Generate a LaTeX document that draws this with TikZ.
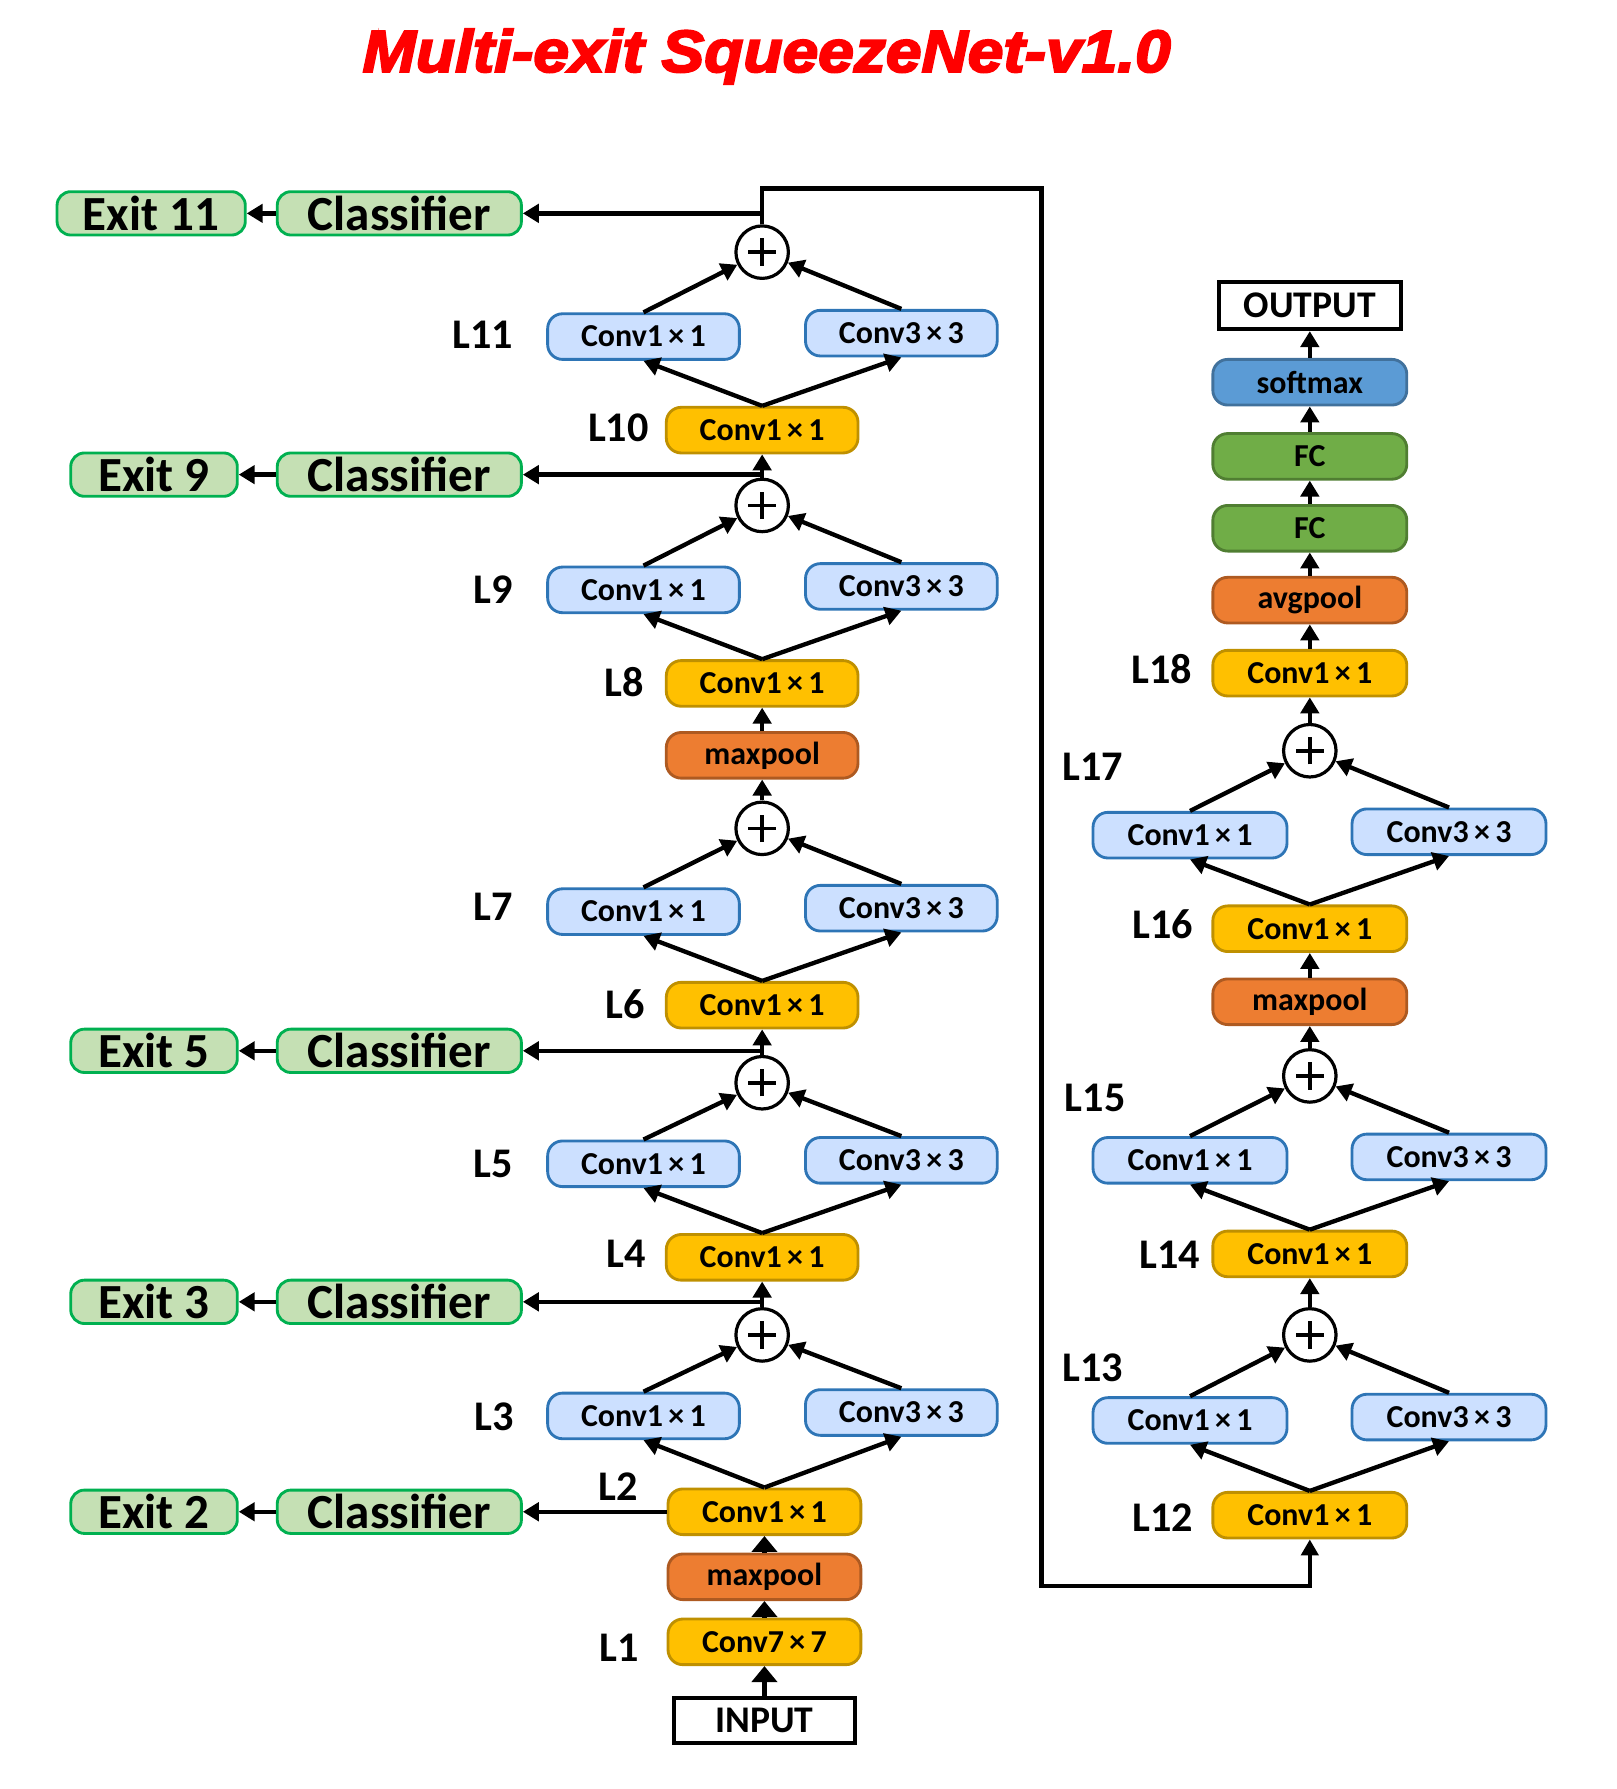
\documentclass[tikz,border=0pt]{standalone}
\usepackage{fontspec}
\setmainfont{Carlito}
\newfontfamily\titlefont{Liberation Sans}[FakeStretch=1.08,FakeBold=3.5]
\usetikzlibrary{arrows.meta}
\definecolor{yelF}{HTML}{FFC000}
\definecolor{yelD}{HTML}{BF9000}
\definecolor{bluF}{HTML}{CCE0FF}
\definecolor{bluD}{HTML}{2E75B6}
\definecolor{orgF}{HTML}{ED7D31}
\definecolor{orgD}{HTML}{AE5A21}
\definecolor{grnF}{HTML}{70AD47}
\definecolor{grnD}{HTML}{507E32}
\definecolor{sftF}{HTML}{5B9BD5}
\definecolor{sftD}{HTML}{41719C}
\definecolor{extF}{HTML}{C5E0B4}
\definecolor{extD}{HTML}{00B050}
\tikzset{
  box/.style={rounded corners=13pt, minimum width=168pt, minimum height=40pt,
    line width=2.5pt, inner sep=0pt, font=\fontsize{28}{30}\selectfont\bfseries},
  yel/.style={box, fill=yelF, draw=yelD},
  blu/.style={box, fill=bluF, draw=bluD},
  org/.style={box, fill=orgF, draw=orgD},
  grn/.style={box, fill=grnF, draw=grnD},
  sft/.style={box, fill=sftF, draw=sftD},
  iobox/.style={draw=black, line width=3.5pt, minimum width=158pt, minimum height=40pt,
    inner sep=0pt, font=\fontsize{33}{35}\selectfont\bfseries},
  ext/.style={rounded corners=12pt, minimum height=38pt, line width=2.5pt, inner sep=0pt,
    fill=extF, draw=extD, font=\fontsize{43}{45}\selectfont\bfseries},
  lab/.style={font=\fontsize{37}{40}\selectfont\bfseries, inner sep=0pt},
  plus/.style={circle, draw=black, fill=white, line width=2.8pt, minimum size=46pt, inner sep=0pt},
  arr/.style={line width=3.8pt, -{Triangle[length=14pt,width=16pt]}},
  bigarr/.style={line width=5pt, -{Triangle[length=14pt,width=22pt]}},
  loopline/.style={line width=4pt, line join=miter, -{Triangle[length=14pt,width=15pt]}},
}
\newcommand{\cx}{Conv1\,×\,1}
\newcommand{\cxx}{Conv3\,×\,3}
\begin{document}
\begin{tikzpicture}[x=1pt,y=-1pt]
\useasboundingbox (0,0) rectangle (1417,1568);
% title
\node[font=\titlefont\bfseries\itshape\fontsize{52}{56}\selectfont, text=red, anchor=base, inner sep=0pt] (title) at (672,63) {Multi-exit SqueezeNet-v1.0};

% ---------- left column ----------
\node[iobox] (inp) at (670,1508) {INPUT};
\node[yel, minimum width=169pt] (L1) at (670,1439) {Conv7\,×\,7};
\node[org, minimum width=169pt] (mp1) at (670,1382) {maxpool};
\node[yel, minimum width=169pt] (L2) at (670,1325) {\cx};
\node[blu] (L3a) at (564,1241) {\cx};
\node[blu] (L3b) at (790,1238) {\cxx};
\node[plus] (p3) at (668,1170) {};
\node[yel] (L4) at (668,1102) {\cx};
\node[blu] (L5a) at (564,1020) {\cx};
\node[blu] (L5b) at (790,1017) {\cxx};
\node[plus] (p5) at (668,949) {};
\node[yel] (L6) at (668,881) {\cx};
\node[blu] (L7a) at (564,799) {\cx};
\node[blu] (L7b) at (790,796) {\cxx};
\node[plus] (p7) at (668,726) {};
\node[org] (mp2) at (668,662) {maxpool};
\node[yel] (L8) at (668,599) {\cx};
\node[blu] (L9a) at (564,517) {\cx};
\node[blu] (L9b) at (790,514) {\cxx};
\node[plus] (p9) at (668,443) {};
\node[yel] (L10) at (668,377) {\cx};
\node[blu] (L11a) at (564,295) {\cx};
\node[blu] (L11b) at (790,292) {\cxx};
\node[plus] (p11) at (668,221) {};

% layer labels left
\node[lab] at (423,293) {L11};
\node[lab] at (542,375) {L10};
\node[lab] at (432,517) {L9};
\node[lab] at (547,598) {L8};
\node[lab] at (432,795) {L7};
\node[lab] at (548,880) {L6};
\node[lab] at (432,1020) {L5};
\node[lab] at (549,1099) {L4};
\node[lab] at (433,1242) {L3};
\node[lab] at (542,1303) {L2};
\node[lab] at (543,1444) {L1};

% exits
\node[ext, minimum width=165pt] (ex11) at (132.5,187) {Exit 11};
\node[ext, minimum width=214pt] (cl11) at (350,187) {Classifier};
\node[ext, minimum width=146pt] (ex9) at (135,416) {Exit 9};
\node[ext, minimum width=214pt] (cl9) at (350,416) {Classifier};
\node[ext, minimum width=146pt] (ex5) at (135,921) {Exit 5};
\node[ext, minimum width=214pt] (cl5) at (350,921) {Classifier};
\node[ext, minimum width=146pt] (ex3) at (135,1141) {Exit 3};
\node[ext, minimum width=214pt] (cl3) at (350,1141) {Classifier};
\node[ext, minimum width=146pt] (ex2) at (135,1325) {Exit 2};
\node[ext, minimum width=214pt] (cl2) at (350,1325) {Classifier};

% ---------- right column ----------
\node[iobox, minimum width=159pt, minimum height=41pt] (out) at (1148,268) {OUTPUT};
\node[sft, minimum width=170pt] (sm) at (1148,335) {softmax};
\node[grn, minimum width=170pt] (fc2) at (1148,400) {FC};
\node[grn, minimum width=170pt] (fc1) at (1148,463) {FC};
\node[org, minimum width=170pt] (ap) at (1148,526) {avgpool};
\node[yel, minimum width=170pt] (L18) at (1148,590) {\cx};
\node[plus] (p17) at (1148,658) {};
\node[blu, minimum width=170pt] (L17a) at (1043,732) {\cx};
\node[blu, minimum width=170pt] (L17b) at (1270,729) {\cxx};
\node[yel, minimum width=170pt] (L16) at (1148,814) {\cx};
\node[org, minimum width=170pt] (mp3) at (1148,878) {maxpool};
\node[plus] (p15) at (1148,943) {};
\node[blu, minimum width=170pt] (L15a) at (1043,1017) {\cx};
\node[blu, minimum width=170pt] (L15b) at (1270,1014) {\cxx};
\node[yel, minimum width=170pt] (L14) at (1148,1099) {\cx};
\node[plus] (p13) at (1148,1170) {};
\node[blu, minimum width=170pt] (L13a) at (1043,1245) {\cx};
\node[blu, minimum width=170pt] (L13b) at (1270,1242) {\cxx};
\node[yel, minimum width=170pt] (L12) at (1148,1328) {\cx};

\node[lab] at (1018,586) {L18};
\node[lab] at (958,672) {L17};
\node[lab] at (1019,810) {L16};
\node[lab] at (960,962) {L15};
\node[lab] at (1025,1100) {L14};
\node[lab] at (958,1199) {L13};
\node[lab] at (1019,1330) {L12};

% plus signs
\foreach \p in {p3,p5,p7,p9,p11,p13,p15,p17} {
  \draw[line width=3.2pt] ([xshift=-12pt]\p.center) -- ([xshift=12pt]\p.center)
    ([yshift=-12pt]\p.center) -- ([yshift=12pt]\p.center);
}

% ---------- connectors left ----------
\draw[bigarr] (inp) -- (L1);
\draw[bigarr] (L1) -- (mp1);
\draw[bigarr] (mp1) -- (L2);
\foreach \a/\b/\c/\p/\n in {L2/L3a/L3b/p3/L4, L4/L5a/L5b/p5/L6, L6/L7a/L7b/p7/mp2, L8/L9a/L9b/p9/L10} {
  \draw[arr] (\a.north) -- (\b.south);
  \draw[arr] (\a.north) -- (\c.south);
  \draw[arr] (\b.north) -- (\p);
  \draw[arr] (\c.north) -- (\p);
  \draw[arr] (\p) -- (\n);
}
\draw[arr] (mp2) -- (L8);
\draw[arr] (L10.north) -- (L11a.south);
\draw[arr] (L10.north) -- (L11b.south);
\draw[arr] (L11a.north) -- (p11);
\draw[arr] (L11b.north) -- (p11);

% exit branches
\coordinate (b11) at (668,187);
\coordinate (b9) at (668,416);
\coordinate (b5) at (668,921);
\coordinate (b3) at (668,1141);
\draw[arr] (b11) -- (cl11.east);
\draw[arr] (b9) -- (cl9.east);
\draw[arr] (b5) -- (cl5.east);
\draw[arr] (b3) -- (cl3.east);
\draw[arr] (L2.west) -- (cl2.east);
\foreach \e in {11,9,5,3,2} {
  \draw[arr] (cl\e.west) -- (ex\e.east);
}

% loop from top to right column
\coordinate (t0) at (668,165);
\coordinate (tr) at (913,165);
\coordinate (br) at (913,1390);
\coordinate (bl) at (1148,1390);
\draw[loopline] (p11) -- (t0) -- (tr) -- (br) -- (bl) -- (L12);

% ---------- connectors right ----------
\foreach \a/\b/\c/\p/\n in {L12/L13a/L13b/p13/L14, L14/L15a/L15b/p15/mp3, L16/L17a/L17b/p17/L18} {
  \draw[arr] (\a.north) -- (\b.south);
  \draw[arr] (\a.north) -- (\c.south);
  \draw[arr] (\b.north) -- (\p);
  \draw[arr] (\c.north) -- (\p);
  \draw[arr] (\p) -- (\n);
}
\draw[arr] (mp3) -- (L16);
\draw[arr] (L18) -- (ap);
\draw[arr] (ap) -- (fc1);
\draw[arr] (fc1) -- (fc2);
\draw[arr] (fc2) -- (sm);
\draw[arr] (sm) -- (out);
\end{tikzpicture}
\end{document}
